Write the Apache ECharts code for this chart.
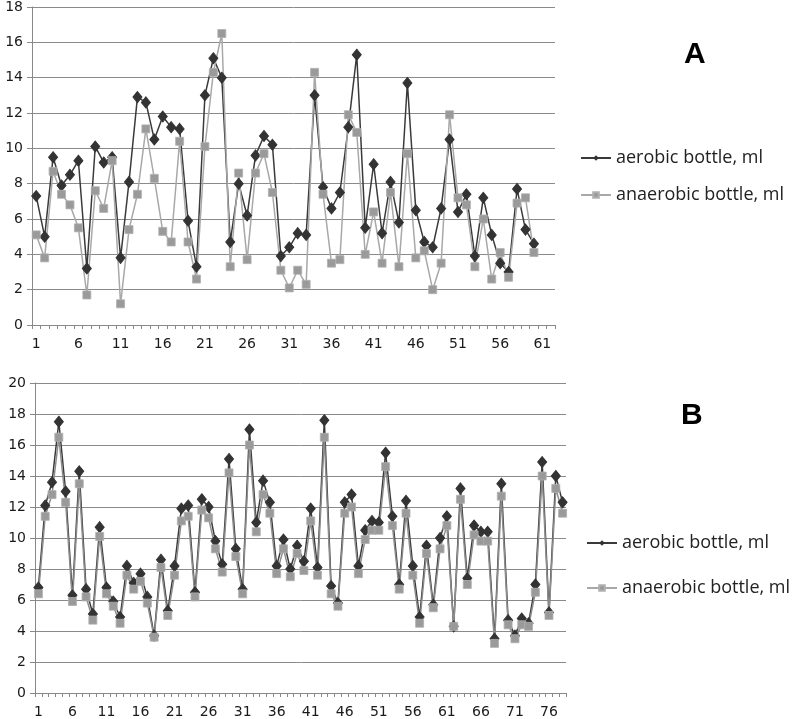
<!DOCTYPE html>
<html>
<head>
<meta charset="utf-8">
<script src="https://cdn.jsdelivr.net/npm/echarts@6/dist/echarts.min.js"></script>
<style>html,body{margin:0;padding:0;background:#fff}#c{width:800px;height:719px}</style>
</head>
<body>
<div id="c"></div>
<script>
// Panel A categories (1..62), 60 samples
var catsA = [];
for (var i = 1; i <= 62; i++) catsA.push(String(i));
// Panel B categories (1..78)
var catsB = [];
for (var j = 1; j <= 78; j++) catsB.push(String(j));

var aerobicA = [7.3,5.0,9.5,7.9,8.5,9.3,3.2,10.1,9.2,9.5,
  3.8,8.1,12.9,12.6,10.5,11.8,11.2,11.1,5.9,3.3,
  13.0,15.1,14.0,4.7,8.0,6.2,9.6,10.7,10.2,3.9,
  4.4,5.2,5.1,13.0,7.8,6.6,7.5,11.2,15.3,5.5,
  9.1,5.2,8.1,5.8,13.7,6.5,4.7,4.4,6.6,10.5,
  6.4,7.4,3.9,7.2,5.1,3.5,3.0,7.7,5.4,4.6];
var anaerobicA = [5.1,3.8,8.7,7.4,6.8,5.5,1.7,7.6,6.6,9.3,
  1.2,5.4,7.4,11.1,8.3,5.3,4.7,10.4,4.7,2.6,
  10.1,14.3,16.5,3.3,8.6,3.7,8.6,9.7,7.5,3.1,
  2.1,3.1,2.3,14.3,7.4,3.5,3.7,11.9,10.9,4.0,
  6.4,3.5,7.5,3.3,9.7,3.8,4.2,2.0,3.5,11.9,
  7.2,6.8,3.3,6.0,2.6,4.1,2.7,6.9,7.2,4.1];
var aerobicB = [6.8,12.1,13.6,17.5,13.0,6.3,14.3,6.7,5.1,10.7,
  6.8,5.9,4.9,8.2,7.1,7.7,6.2,3.7,8.6,5.3,
  8.2,11.9,12.1,6.5,12.5,12.0,9.8,8.3,15.1,9.3,
  6.7,17.0,11.0,13.7,12.3,8.2,9.9,8.0,9.5,8.5,
  11.9,8.1,17.6,6.9,5.8,12.3,12.8,8.2,10.5,11.1,
  11.0,15.5,11.4,7.0,12.4,8.2,4.9,9.5,5.7,10.0,
  11.4,4.3,13.2,7.4,10.8,10.4,10.4,3.5,13.5,4.7,
  3.7,4.8,4.5,7.0,14.9,5.2,14.0,12.3];
var anaerobicB = [6.4,11.4,12.8,16.5,12.3,5.9,13.5,6.2,4.7,10.1,
  6.4,5.6,4.5,7.6,6.7,7.2,5.8,3.6,8.1,5.0,
  7.6,11.1,11.4,6.2,11.8,11.3,9.3,7.8,14.2,8.8,
  6.4,16.0,10.4,12.8,11.6,7.7,9.3,7.5,9.0,7.9,
  11.1,7.6,16.5,6.4,5.6,11.6,12.0,7.7,9.9,10.5,
  10.5,14.6,10.8,6.7,11.6,7.6,4.5,9.0,5.5,9.3,
  10.8,4.3,12.5,7.0,10.2,9.8,9.8,3.2,12.7,4.4,
  3.5,4.4,4.3,6.5,14.0,5.0,13.2,11.6];

var nameAer = 'aerobic bottle, ml';
var nameAna = 'anaerobic bottle, ml';

var chart = echarts.init(document.getElementById('c'), null, {renderer: 'canvas'});

function xAxisCfg(data, gi) {
  return {
    type: 'category', gridIndex: gi, data: data, boundaryGap: true,
    axisLine: {lineStyle: {color: '#888', width: 1}},
    axisTick: {show: true, interval: 0, length: 4, lineStyle: {color: '#888'}},
    axisLabel: {interval: 4, margin: 12, color: '#1a1a1a', fontSize: 14, fontFamily: 'DejaVu Sans'},
    splitLine: {show: false}
  };
}
function yAxisCfg(max, gi) {
  return {
    type: 'value', gridIndex: gi, min: 0, max: max, interval: 2,
    axisLine: {show: true, lineStyle: {color: '#888', width: 1}},
    axisTick: {show: true, length: 5, lineStyle: {color: '#888'}},
    axisLabel: {margin: 9, color: '#1a1a1a', fontSize: 14, fontFamily: 'DejaVu Sans'},
    splitLine: {show: true, lineStyle: {color: '#8a8a8a', width: 1}}
  };
}
function aerSeries(data, gi) {
  return {
    name: nameAer, type: 'line', xAxisIndex: gi, yAxisIndex: gi, data: data,
    symbol: 'diamond', symbolSize: [9, 11], showAllSymbol: true,
    lineStyle: {color: '#3a3a3a', width: 1.5},
    itemStyle: {color: '#333333', borderColor: '#333333'},
    emphasis: {disabled: true}, animation: false
  };
}
function anaSeries(data, gi, lineColor) {
  return {
    name: nameAna, type: 'line', xAxisIndex: gi, yAxisIndex: gi, data: data,
    symbol: 'rect', symbolSize: 8, showAllSymbol: true,
    lineStyle: {color: lineColor, width: 1.5},
    itemStyle: {color: '#9a9a9a', borderColor: '#b0b0b0', borderWidth: 0.8},
    emphasis: {disabled: true}, animation: false
  };
}

var option = {
  backgroundColor: '#ffffff',
  animation: false,
  title: [
    {text: 'A', left: 684, top: 40, padding: 0,
     textStyle: {fontSize: 30, fontWeight: 'bold', color: '#000', fontFamily: 'Liberation Sans'}},
    {text: 'B', left: 681, top: 401, padding: 0,
     textStyle: {fontSize: 30, fontWeight: 'bold', color: '#000', fontFamily: 'Liberation Sans'}}
  ],
  legend: [
    {orient: 'vertical', left: 580, top: 149, itemGap: 19, itemWidth: 30, itemHeight: 7,
     data: [nameAer, nameAna], padding: 0,
     textStyle: {fontSize: 18, color: '#222', fontFamily: 'Open Sans'}, selectedMode: false},
    {orient: 'vertical', left: 586, top: 534, itemGap: 27, itemWidth: 30, itemHeight: 7,
     data: [nameAer, nameAna], padding: 0,
     textStyle: {fontSize: 18, color: '#222', fontFamily: 'Open Sans'}, selectedMode: false}
  ],
  grid: [
    {left: 32, top: 5, width: 523, height: 320},
    {left: 35, top: 383, width: 531, height: 310}
  ],
  xAxis: [xAxisCfg(catsA, 0), xAxisCfg(catsB, 1)],
  yAxis: [yAxisCfg(18, 0), yAxisCfg(20, 1)],
  series: [
    aerSeries(aerobicA, 0),
    anaSeries(anaerobicA, 0, '#a8a8a8'),
    aerSeries(aerobicB, 1),
    anaSeries(anaerobicB, 1, '#8c8c8c')
  ]
};
chart.setOption(option);
</script>
</body>
</html>
